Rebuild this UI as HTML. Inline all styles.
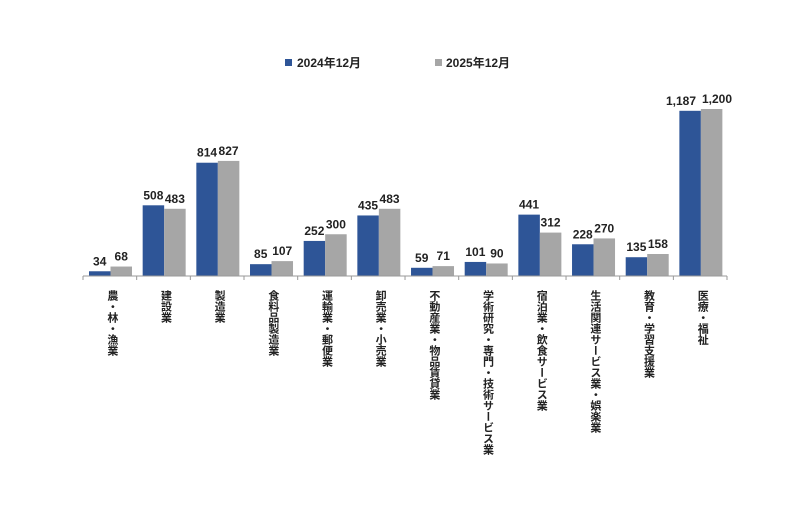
<!DOCTYPE html>
<html><head><meta charset="utf-8"><style>
html,body{margin:0;padding:0;background:#fff;}
body{width:800px;height:511px;overflow:hidden;position:relative;font-family:"Liberation Sans","Noto Sans CJK JP",sans-serif;}
.lab{position:absolute;top:290px;writing-mode:vertical-rl;text-orientation:upright;font-family:"Noto Sans CJK JP",sans-serif;font-size:11px;font-weight:bold;color:#222;line-height:13px;width:13px;}
</style></head><body>
<svg width="800" height="511" style="position:absolute;left:0;top:0" font-family="Liberation Sans, Noto Sans CJK JP, sans-serif">
<rect x="285" y="59" width="7" height="7" fill="#2e5597"/>
<text x="297" y="67" font-size="12" font-weight="bold" fill="#222">2024年12月</text>
<rect x="435" y="59" width="7" height="7" fill="#a6a6a6"/>
<text x="446" y="67" font-size="12" font-weight="bold" fill="#222">2025年12月</text>
<g id="bars"></g>
<line x1="83" y1="276" x2="727" y2="276" stroke="#999" stroke-width="1"/>
<g id="ticks"></g>
</svg>
<div id="labs"></div>
<script>
var a=[34,508,814,85,252,435,59,101,441,228,135,1187];
var b=[68,483,827,107,300,483,71,90,312,270,158,1200];
var n=["農・林・漁業","建設業","製造業","食料品製造業","運輸業・郵便業","卸売業・小売業","不動産業・物品賃貸業","学術研究・専門・技術サービス業","宿泊業・飲食サービス業","生活関連サービス業・娯楽業","教育・学習支援業","医療・福祉"];
var s="",t="",l="",p=53.67,k=167/1200;
function f(v){return v.toLocaleString("en-US");}
for(var i=0;i<12;i++){
 var x0=83+i*p, x1=x0+6, x2=x1+21.5;
 var ha=a[i]*k, hb=b[i]*k;
 var ca=x1+10.7, cb=x2+10.7;
 if(i==11){ca=681;cb=717;}
 s+='<rect x="'+x1+'" y="'+(276-ha)+'" width="21.5" height="'+ha+'" fill="#2e5597"/>';
 s+='<rect x="'+x2+'" y="'+(276-hb)+'" width="21.5" height="'+hb+'" fill="#a6a6a6"/>';
 s+='<text x="'+ca+'" y="'+(276-ha-6)+'" font-size="12" font-weight="bold" fill="#222" text-anchor="middle">'+f(a[i])+'</text>';
 s+='<text x="'+cb+'" y="'+(276-hb-6)+'" font-size="12" font-weight="bold" fill="#222" text-anchor="middle">'+f(b[i])+'</text>';
 t+='<line x1="'+x0+'" y1="276" x2="'+x0+'" y2="280" stroke="#999"/>';
 l+='<div class="lab" style="left:'+(x0+p/2-4)+'px">'+n[i]+'</div>';
}
t+='<line x1="727" y1="276" x2="727" y2="280" stroke="#999"/>';
document.getElementById("bars").innerHTML=s;
document.getElementById("ticks").innerHTML=t;
document.getElementById("labs").innerHTML=l;
</script>
</body></html>
